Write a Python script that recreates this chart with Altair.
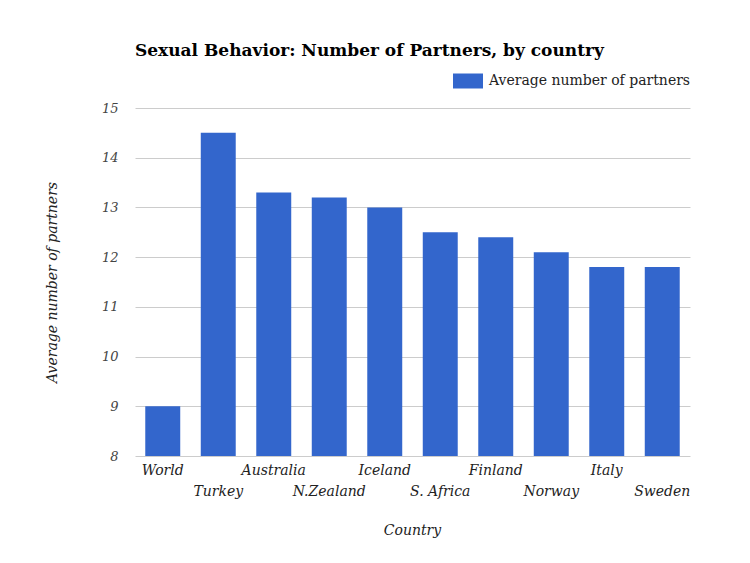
import altair as alt
import pandas as pd

countries = ["World", "Turkey", "Australia", "N.Zealand", "Iceland",
             "S. Africa", "Finland", "Norway", "Italy", "Sweden"]
partners = [9.0, 14.5, 13.3, 13.2, 13.0, 12.5, 12.4, 12.1, 11.8, 11.8]
series = "Average number of partners"

df = pd.DataFrame({"Country": countries, "value": partners, "series": series})

FONT = "DejaVu Serif"

chart = alt.Chart(df).mark_bar(color="#3366cc").encode(
    x=alt.X("Country:N", sort=countries,
            scale=alt.Scale(paddingInner=0.37, paddingOuter=0.185),
            axis=alt.Axis(title="Country", labelAngle=0, ticks=False, domain=False,
                          labelFont=FONT, labelFontStyle="italic", labelFontSize=14,
                          labelColor="#222", labelPadding=7, labelLineHeight=21,
                          labelBaseline="top",
                          labelExpr="round(datum.index*9) % 2 == 1 ? ['', datum.label] : datum.label",
                          titleFont=FONT, titleFontStyle="italic", titleFontWeight="normal",
                          titleFontSize=14, titleColor="#222",
                          titleX=277, titleY=74, titleBaseline="middle")),
    y=alt.Y("value:Q", scale=alt.Scale(domain=[8, 15], nice=False, zero=False),
            axis=alt.Axis(title="Average number of partners", values=[8, 9, 10, 11, 12, 13, 14, 15],
                          ticks=False, domain=False, gridColor="#cccccc",
                          labelFont=FONT, labelFontStyle="italic", labelFontSize=13,
                          labelColor="#444", labelPadding=17,
                          titleFont=FONT, titleFontStyle="italic", titleFontWeight="normal",
                          titleFontSize=14, titleColor="#222",
                          titleX=-83, titleY=174, titleBaseline="middle")),
    y2=alt.Y2(datum=8),
    fill=alt.Fill("series:N", scale=alt.Scale(range=["#3366cc"]),
                  legend=alt.Legend(title=None, orient="none", legendX=318, legendY=-42,
                                    symbolType="M-1,-0.5L1,-0.5L1,0.5L-1,0.5Z",
                                    symbolSize=900, symbolOpacity=1, symbolStrokeWidth=0,
                                    labelFont=FONT, labelFontSize=14, labelColor="#222",
                                    labelLimit=400, labelOffset=6)),
).properties(
    width=555, height=348,
    title=alt.TitleParams("Sexual Behavior: Number of Partners, by country",
                          font=FONT, fontSize=17, fontWeight="bold", color="#000",
                          anchor="start", frame="group", offset=6),
    padding={"left": 127, "top": 100, "right": 52, "bottom": 99},
    autosize=alt.AutoSizeParams(type="none"),
).configure_view(stroke=None)

chart.save("out.html", embed_options={"renderer": "svg", "actions": False})
